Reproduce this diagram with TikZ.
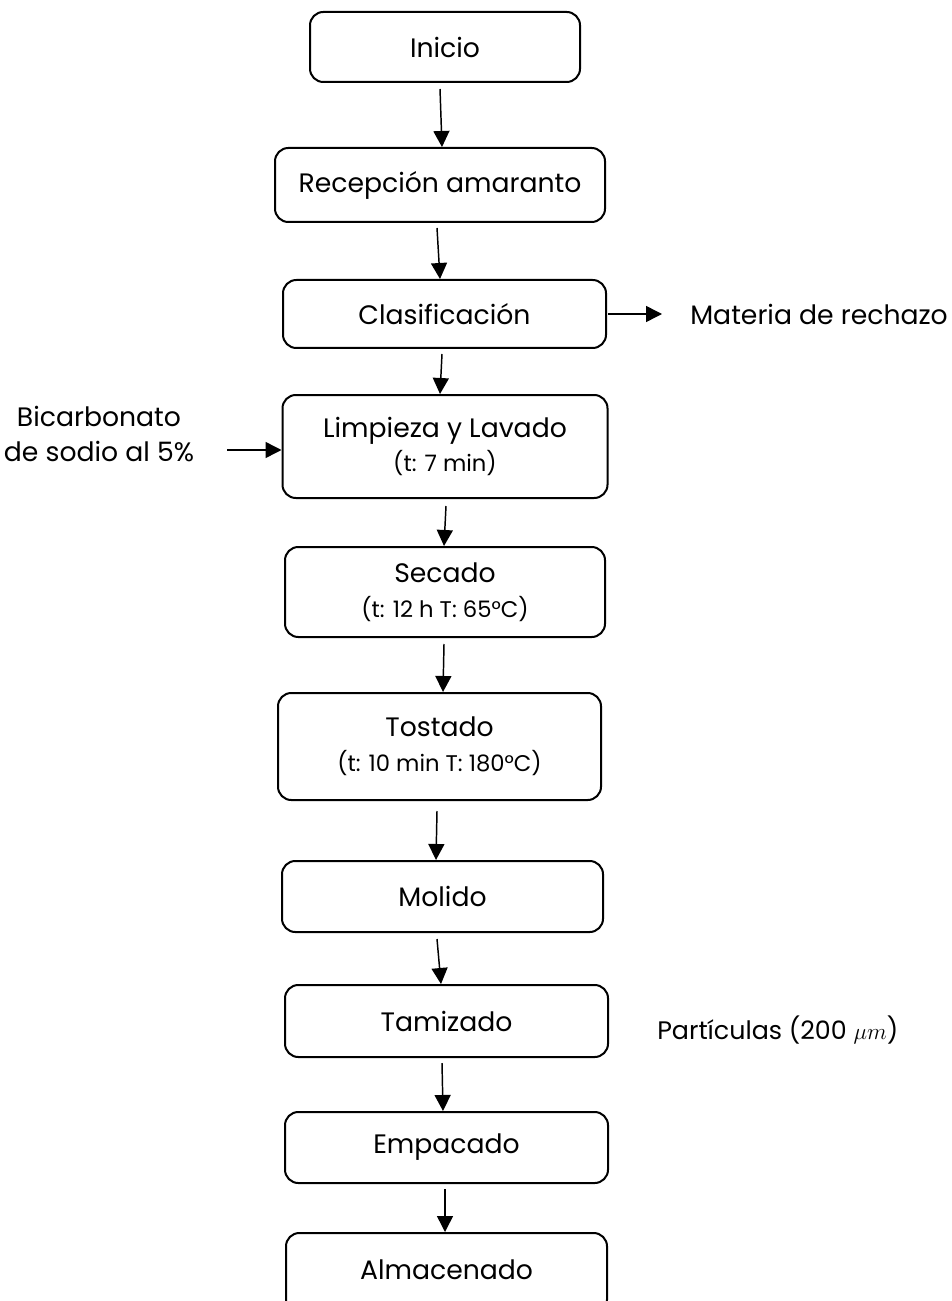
\documentclass[tikz,border=0pt]{standalone}
\usepackage{fontspec}
\setmainfont{Poppins}
\usetikzlibrary{arrows.meta,calc}
\begin{document}
\begin{tikzpicture}[x=0.75pt,y=-0.75pt,
  box/.style 2 args={draw, line width=1.5pt, rounded corners=10pt, align=center, inner sep=0pt,
    minimum width=#1*0.75pt, minimum height=#2*0.75pt, font=\fontsize{20}{26}\selectfont},
  lbl/.style={inner sep=0pt, align=center, font=\fontsize{20}{26}\selectfont},
  arr/.style={line width=1.1pt, -{Triangle[length=12pt,width=12pt]}}
]
\path[use as bounding box] (0,0) rectangle (951,1301);
\clip (0,0) rectangle (951,1301);
\node[box={270}{70}] (ini) at (445,47) {Inicio};
\node[box={330}{74}] (rec) at (440,185) {Recepción amaranto};
\node[box={323}{68}] (cla) at (444.5,314) {Clasificación};
\node[box={325}{103}] (lim) at (445,446.5) {Limpieza y Lavado\\{\fontsize{17}{26}\selectfont (t: 7 min)}};
\node[box={320}{90}] (sec) at (445,592) {\raisebox{-5pt}{Secado}\\{\fontsize{17}{26}\selectfont \raisebox{-5pt}{(t: 12 h T: 65°C)}}};
\node[box={323}{107}] (tos) at (439.5,746.5) {Tostado\\{\fontsize{17}{26}\selectfont (t: 10 min T: 180°C)}};
\node[box={321}{71}] (mol) at (442.5,896.5) {Molido};
\node[box={323}{72}] (tam) at (446.5,1021) {Tamizado};
\node[box={323}{71}] (emp) at (446.5,1147.5) {Empacado};
\node[box={321}{80}] (alm) at (446.5,1273) {\raisebox{4.5pt}{Almacenado}};

\node[lbl, anchor=west] (mat) at (690,314) {Materia de rechazo};
\node[lbl] (bic) at (99,434) {Bicarbonato\\de sodio al 5\%};
\node[lbl, anchor=west, font=\fontsize{19}{24}\selectfont] (par) at (657,1030) {Partículas (200 $\mu m$)};
\coordinate (bicarr) at (227,450);

\draw[arr] ($(ini.south)+(-5,6)$) -- ($(rec.north)+(2,0)$);
\draw[arr] ($(rec.south)+(-3,5)$) -- ($(cla.north)+(-4.5,0)$);
\draw[arr] ($(cla.south)+(-2.5,5)$) -- ($(lim.north)+(-5,0)$);
\draw[arr] ($(lim.south)+(1,7)$) -- ($(sec.north)+(-1,0)$);
\draw[arr] ($(sec.south)+(-1,6)$) -- ($(tos.north)+(3.5,0)$);
\draw[arr] ($(tos.south)+(-2.5,10)$) -- ($(mol.north)+(-6.5,0)$);
\draw[arr] ($(mol.south)+(-5.5,6)$) -- ($(tam.north)+(-5.5,0)$);
\draw[arr] ($(tam.south)+(-4.5,5)$) -- ($(emp.north)+(-3.5,0)$);
\draw[arr] ($(emp.south)+(-1.5,5)$) -- ($(alm.north)+(-1.5,0)$);
\draw[arr] ($(cla.east)+(1,0)$) -- ($(mat.west)+(-28,0)$);
\draw[arr] (bicarr) -- (lim.west |- bicarr);
\end{tikzpicture}
\end{document}
